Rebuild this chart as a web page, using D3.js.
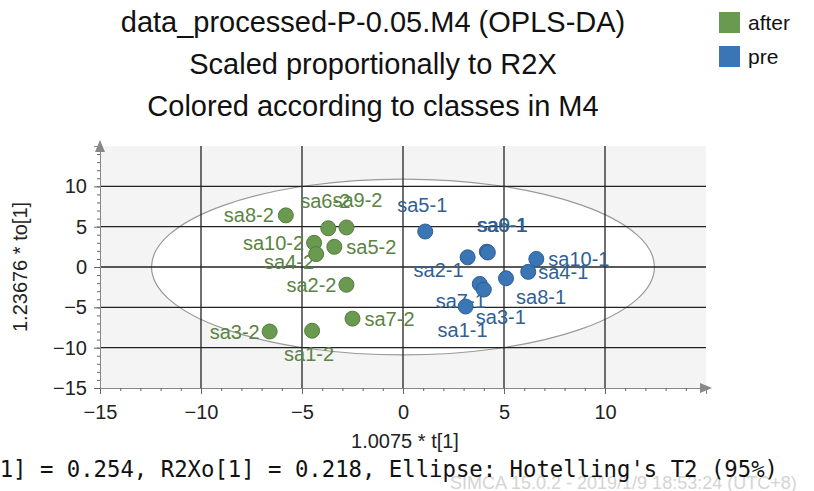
<!DOCTYPE html>
<html><head><meta charset="utf-8">
<script src="https://cdn.jsdelivr.net/npm/d3@7"></script>
<style>body{margin:0;background:#fff}svg{display:block}</style>
</head><body>
<svg id="c" width="814" height="491"></svg>
<script>
// scores
var afterNames = ["sa8-2","sa6-2","sa9-2","sa10-2","sa5-2","sa4-2","sa2-2","sa7-2","sa3-2","sa1-2"];
var afterT  = [-5.8,-3.7,-2.8,-4.4,-3.4,-4.3,-2.8,-2.5,-6.6,-4.5];
var afterTo = [6.4,4.8,4.9,3.0,2.5,1.6,-2.2,-6.4,-8.0,-7.9];
var preNames = ["sa5-1","sa2-1","sa6-1","sa9-1","sa10-1","sa4-1","sa8-1","sa7-1","sa3-1","sa1-1"];
var preT  = [1.1,3.2,4.15,4.2,6.6,6.2,5.1,3.8,4.0,3.1];
var preTo = [4.4,1.2,1.9,1.8,1.0,-0.6,-1.4,-2.1,-2.8,-4.9];
var xTicks = [-15,-10,-5,0,5,10];
var yTicks = [-15,-10,-5,0,5,10];
var ellipseR = [12.45, 10.9];

// label anchor ("s" start / "e" end) and offsets (px) from each point
var afterOff = [["e",-12,7],["s",-28,-20],["s",-14,-20],["e",-10,7],["s",12,7],["e",-2,15],["e",-10,7],["s",12,7],["e",-10,7],["s",-28,30]];
var preOff = [["s",-28,-20],["e",-4,20],["s",-10,-20],["s",-10,-20],["s",12,7],["s",10,7],["s",10,26],["e",6,24],["s",-8,34],["s",-28,30]];

var svg = d3.select("#c");
var x = d3.scaleLinear().domain([-15,15]).range([100,706]);
var y = d3.scaleLinear().domain([-15,15]).range([388,146]);
var green = "#6a9a50", blue = "#3a75b5";
var font = "Liberation Sans, Arial";

svg.append("rect").attr("x",100).attr("y",146).attr("width",606).attr("height",242).attr("fill","#f4f4f4");
svg.append("ellipse").attr("cx",x(0)).attr("cy",y(0))
  .attr("rx",x(ellipseR[0])-x(0)).attr("ry",y(0)-y(ellipseR[1]))
  .attr("fill","#fff").attr("stroke","#999").attr("stroke-width",1.2);

var g = svg.append("g");
xTicks.forEach(function(t){ if(t>-15) g.append("line").attr("x1",x(t)).attr("x2",x(t)).attr("y1",146).attr("y2",388).attr("stroke","#222").attr("stroke-width",1.3); });
yTicks.forEach(function(t){ if(t>-15) g.append("line").attr("x1",100).attr("x2",706).attr("y1",y(t)).attr("y2",y(t)).attr("stroke","#222").attr("stroke-width",1.3); });

var xa = svg.append("g").attr("transform","translate(0,388)")
  .call(d3.axisBottom(x).tickValues(xTicks).tickSize(6).tickFormat(d3.format("d")));
var ya = svg.append("g").attr("transform","translate(100,0)")
  .call(d3.axisLeft(y).tickValues(yTicks).tickSize(6).tickFormat(d3.format("d")));
svg.append("g").attr("transform","translate(0,388)")
  .call(d3.axisBottom(x).tickValues(d3.range(-15,15,1)).tickSize(3).tickFormat(""));
svg.append("g").attr("transform","translate(100,0)")
  .call(d3.axisLeft(y).tickValues(d3.range(-15,15,1)).tickSize(3).tickFormat(""));
svg.selectAll(".domain").attr("stroke","#888");
svg.selectAll(".tick line").attr("stroke","#666");
svg.selectAll(".tick text").attr("font-family",font).attr("font-size",20).attr("fill","#222");
xa.selectAll(".tick text").attr("dy","1.1em");
ya.selectAll(".tick text").attr("dx","-0.2em");
svg.append("path").attr("d","M95,152 L100,140 L105,152 Z").attr("fill","#888");
svg.append("path").attr("d","M700,383 L712,388 L700,393 Z").attr("fill","#888");

function series(names, tx, ty, off, col, txtCol){
  var d = names.map(function(n,i){ return {n:n, t:tx[i], o:ty[i], a:off[i][0], dx:off[i][1], dy:off[i][2]}; });
  svg.append("g").selectAll("text").data(d).enter().append("text")
    .attr("x",function(p){return x(p.t)+p.dx;}).attr("y",function(p){return y(p.o)+p.dy;})
    .attr("text-anchor",function(p){return p.a=="e"?"end":"start";})
    .attr("fill",txtCol).attr("font-family",font).attr("font-size",20).text(function(p){return p.n;});
  svg.append("g").selectAll("circle").data(d).enter().append("circle")
    .attr("cx",function(p){return x(p.t);}).attr("cy",function(p){return y(p.o);}).attr("r",7.5)
    .attr("fill",col).attr("stroke",d3.color(col).darker(0.6)).attr("stroke-width",1);
}
series(afterNames, afterT, afterTo, afterOff, green, "#5a8344");
series(preNames, preT, preTo, preOff, blue, "#2f5f93");

var titles = ["data_processed-P-0.05.M4 (OPLS-DA)","Scaled proportionally to R2X","Colored according to classes in M4"];
titles.forEach(function(s,i){
  svg.append("text").attr("x",373).attr("y",32+i*42).attr("text-anchor","middle")
    .attr("font-family",font).attr("font-size",29).attr("fill","#111").text(s);
});
[["after",green],["pre",blue]].forEach(function(l,i){
  svg.append("rect").attr("x",719).attr("y",12+i*34).attr("width",21).attr("height",21).attr("fill",l[1]);
  svg.append("text").attr("x",748).attr("y",30+i*34).attr("font-family",font).attr("font-size",21).attr("fill","#111").text(l[0]);
});
svg.append("text").attr("x",405).attr("y",448).attr("text-anchor","middle").attr("font-family",font).attr("font-size",20).attr("fill","#222").text("1.0075 * t[1]");
svg.append("text").attr("transform","translate(27,267) rotate(-90)").attr("text-anchor","middle").attr("font-family",font).attr("font-size",20).attr("fill","#222").text("1.23676 * to[1]");
svg.append("text").attr("x",450).attr("y",489).attr("font-family",font).attr("font-size",18).attr("fill","#d4d4d4").text("SIMCA 15.0.2 - 2019/1/9 18:53:24 (UTC+8)");
svg.append("text").attr("x",-54).attr("y",477).attr("font-family","DejaVu Sans Mono").attr("font-size",23)
  .attr("textLength",832).attr("lengthAdjust","spacingAndGlyphs").attr("fill","#111")
  .text("R2X[1] = 0.254, R2Xo[1] = 0.218, Ellipse: Hotelling's T2 (95%)");
</script>
</body></html>
